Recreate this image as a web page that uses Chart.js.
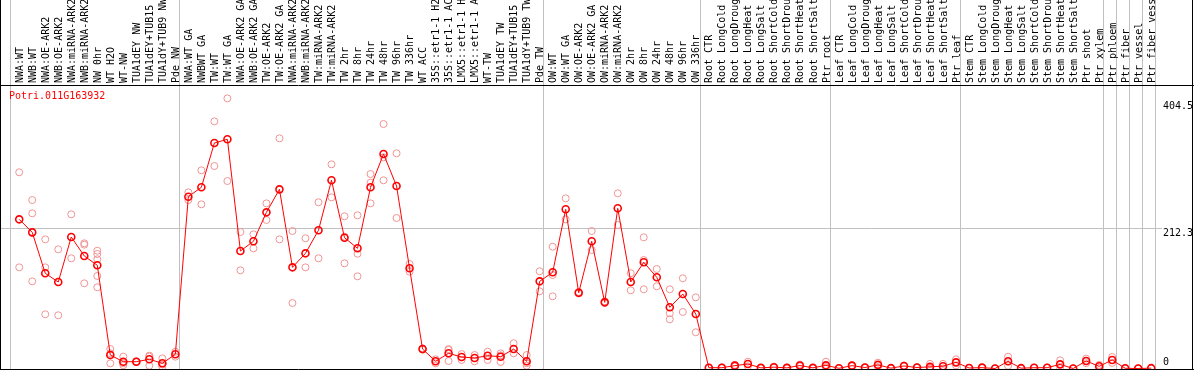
<!DOCTYPE html>
<html lang="en">
<head>
  <meta charset="UTF-8" />
  <title>Potri.011G163932 expression</title>
  <script src="https://cdn.jsdelivr.net/npm/chart.js"></script>
  <style>
    body { margin: 0; background: #fff; }
    #exprChart { display: block; }
  </style>
</head>
<body>
  <canvas id="exprChart" width="1194" height="370"></canvas>

  <script>
    const geneName = "Potri.011G163932";

    // sample groups, left to right
    const groupSizes = [13, 28, 12, 10, 10, 11, 1, 1, 1, 1];

    const sampleLabels = [
      "NWA:WT", "NWB:WT", "NWA:OE-ARK2", "NWB:OE-ARK2", "NWA:miRNA-ARK2", "NWB:miRNA-ARK2",
      "NW 0hr", "WT H2O", "WT-NW", "TUA1dEY NW", "TUA1dEY+TUB15 NW", "TUA1dY+TUB9 NW", "Pde NW",
      "NWA:WT GA", "NWBWT GA", "TW:WT", "TW:WT GA", "NWA:OE-ARK2 GA", "NWB:OE-ARK2 GA",
      "TW:OE-ARK2", "TW:OE-ARK2 GA", "NWA:miRNA-ARK2", "NWB:miRNA-ARK2", "TW:miRNA-ARK2", "TW:miRNA-ARK2",
      "TW 2hr", "TW 8hr", "TW 24hr", "TW 48hr", "TW 96hr", "TW 336hr", "WT ACC",
      "35S::etr1-1 H2O", "35S::etr1-1 ACC", "LMX5::etr1-1 H2O", "LMX5::etr1-1 ACC",
      "WT-TW", "TUA1dEY TW", "TUA1dEY+TUB15 TW", "TUA1dY+TUB9 TW", "Pde TW",
      "OW:WT", "OW:WT GA", "OW:OE-ARK2", "OW:OE-ARK2 GA", "OW:miRNA-ARK2", "OW:miRNA-ARK2",
      "OW 2hr", "OW 8hr", "OW 24hr", "OW 48hr", "OW 96hr", "OW 336hr",
      "Root CTR", "Root LongCold", "Root LongDrought", "Root LongHeat", "Root LongSalt",
      "Root ShortCold", "Root ShortDrought", "Root ShortHeat", "Root ShortSalt", "Ptr root",
      "Leaf CTR", "Leaf LongCold", "Leaf LongDrought", "Leaf LongHeat", "Leaf LongSalt",
      "Leaf ShortCold", "Leaf ShortDrought", "Leaf ShortHeat", "Leaf ShortSalt", "Ptr leaf",
      "Stem CTR", "Stem LongCold", "Stem LongDrought", "Stem LongHeat", "Stem LongSalt",
      "Stem ShortCold", "Stem ShortDrought", "Stem ShortHeat", "Stem ShortSalt", "Ptr shoot", "Ptr xylem",
      "Ptr phloem", "Ptr fiber", "Ptr vessel", "Ptr fiber vessel"
    ];

    const meanValues = [
      225.9, 206.2, 144.2, 131.0, 199.1, 170.4, 156.3, 20.4, 10.3, 10.3, 13.9, 7.9, 21.5,
      260.2, 274.4, 341.5, 347.1, 177.9, 192.6, 236.5, 271.3, 153.2, 174.4, 209.3, 285.0,
      198.1, 182.0, 274.4, 324.8, 276.3, 151.7, 29.5, 10.9, 23.0, 17.4, 15.9, 19.4, 17.9, 29.5, 10.9, 132.0,
      145.7, 241.1, 114.8, 192.6, 100.2, 242.6, 131.0, 160.8, 138.1, 92.7, 112.8, 82.5,
      1.2, 1.2, 4.3, 6.8, 1.0, 2.0, 1.0, 4.5, 1.0, 4.8,
      0.3, 4.3, 1.5, 5.5, 0.5, 3.8, 1.5, 2.5, 3.5, 9.3,
      0.8, 1.3, 0.0, 10.9, 0.5, 1.2, 1.2, 6.3, 0.0, 11.4, 3.3,
      12.9, 0.3, 0.0, 0.5
    ];

    const replicateValues = [
      [297.1, 153.2], [255.1, 235.0, 132.0], [195.6, 153.2, 82.1], [180.5, 80.6], [233.5, 166.9],
      [189.6, 187.5, 129.0], [178.4, 173.4, 165.4, 140.1, 123.0], [29.5, 7.9, 23.0], [18.0, 8.0, 5.0],
      [11.0, 10.0, 10.0], [19.4, 4.2, 18.0], [15.4, 2.7, 6.0], [25.4, 17.9],
      [266.8, 255.1], [300.1, 248.6], [374.3, 306.6], [409.1, 283.9], [206.7, 148.7], [203.2, 182.0],
      [250.1, 224.9], [348.6, 195.6], [208.2, 99.2], [197.2, 153.2], [251.7, 166.9], [309.2, 259.2],
      [230.5, 159.3, 199.6], [232.0, 173.8, 139.6], [294.5, 281.3, 250.1], [370.2, 319.8, 285.0],
      [325.9, 227.9], [158.2, 146.6], [30.5, 28.5], [13.9, 7.9], [29.5, 11.4, 28.0], [21.9, 12.9],
      [20.4, 10.9], [25.4, 12.9], [23.0, 9.9, 20.0], [38.2, 23.0], [20.4, 4.2, 8.0], [147.2, 116.9],
      [184.4, 141.6, 109.3], [257.7, 225.9], [116.0, 113.5], [208.2, 179.4], [101.7, 99.2], [265.3, 217.3],
      [144.2, 118.4], [198.7, 164.3, 119.9], [150.7, 124.5], [119.9, 83.6, 74.5], [136.6, 85.6], [107.8, 54.8],
      [1.5, 0.8], [1.8, 0.6], [5.5, 3.0], [10.3, 3.3], [1.2, 0.8], [2.8, 1.2], [1.4, 0.6], [6.0, 3.0], [1.3, 0.7], [10.3, 2.0, 2.1],
      [0.4, 0.2], [5.0, 3.6], [2.0, 1.0], [8.8, 2.2], [0.7, 0.3], [4.5, 3.1], [2.0, 1.0], [7.0, 0.5, 0.0], [7.0, 0.0], [13.9, 4.7],
      [1.0, 0.6], [1.6, 1.0], [0.0, 0.0], [17.9, 10.9, 4.1], [0.7, 0.3], [1.4, 1.0], [1.4, 1.0], [12.4, 0.3], [0.0, 0.0], [15.0, 11.4, 8.0], [5.5, 1.1],
      [17.4, 12.9, 8.4], [0.4, 0.2], [0.0, 0.0], [0.7, 0.3]
    ];

    const yTickValues = [404.5, 212.3, 0];
    const yGridValues = [212.3];

    const FONT = "10px 'DejaVu Sans Mono', monospace";
    const POINT_POS = 0.67; // points sit a bit right of the column centre
    const GRAY = "#c0c0c0";

    const meanPoints = meanValues.map((v, i) => ({ x: i + POINT_POS, y: v }));
    const repPoints = [];
    replicateValues.forEach((reps, i) => {
      reps.forEach(v => repPoints.push({ x: i + POINT_POS, y: v }));
    });

    function groupBoundaries() {
      const out = [0];
      let acc = 0;
      groupSizes.forEach(n => { acc += n; out.push(acc); });
      return out;
    }

    function vline(ctx, x, y0, y1, color) {
      ctx.strokeStyle = color;
      ctx.lineWidth = 1;
      ctx.beginPath();
      ctx.moveTo(Math.round(x) + 0.5, y0);
      ctx.lineTo(Math.round(x) + 0.5, y1);
      ctx.stroke();
    }

    function hline(ctx, y, x0, x1, color) {
      ctx.strokeStyle = color;
      ctx.lineWidth = 1;
      ctx.beginPath();
      ctx.moveTo(x0, Math.round(y) + 0.5);
      ctx.lineTo(x1, Math.round(y) + 0.5);
      ctx.stroke();
    }

    const efpDecor = {
      id: "efpDecor",
      beforeDatasetsDraw(chart) {
        const ctx = chart.ctx;
        const xs = chart.scales.x, ys = chart.scales.y;
        const H = chart.height;
        ctx.save();
        yGridValues.forEach(v => hline(ctx, ys.getPixelForValue(v) - 0.5, 1, 1162, GRAY));
        groupBoundaries().forEach(b => vline(ctx, xs.getPixelForValue(b) - 0.5, 0, H - 1, GRAY));
        ctx.restore();
      },
      afterDatasetsDraw(chart) {
        const ctx = chart.ctx;
        const xs = chart.scales.x, ys = chart.scales.y;
        const W = chart.width, H = chart.height;
        const top = chart.chartArea.top;
        ctx.save();

        // frame
        vline(ctx, 0, 0, H, "#000");
        vline(ctx, W - 2, 0, H, "#000");
        hline(ctx, top - 1, 0, W, "#000");
        hline(ctx, H - 1, 0, W, "#000");

        // vertical sample labels in the header
        ctx.fillStyle = "#000";
        ctx.font = FONT;
        sampleLabels.forEach((lab, i) => {
          ctx.save();
          ctx.translate(xs.getPixelForValue(i + POINT_POS) + 1, top - 3);
          ctx.rotate(-Math.PI / 2);
          ctx.textAlign = "left";
          ctx.textBaseline = "middle";
          ctx.fillText(lab, 0, 0);
          ctx.restore();
        });

        // gene name
        ctx.fillStyle = "#ff0000";
        ctx.textAlign = "left";
        ctx.textBaseline = "top";
        ctx.fillText(geneName, 9, top + 5);

        // value labels on the right
        ctx.fillStyle = "#000";
        yTickValues.forEach(v => {
          const y = ys.getPixelForValue(v);
          if (v === 0) {
            ctx.textBaseline = "bottom";
            ctx.fillText(String(v), 1163, y - 1);
          } else {
            ctx.textBaseline = "top";
            ctx.fillText(String(v), 1163, y);
          }
        });
        ctx.restore();
      }
    };

    const ctx = document.getElementById("exprChart").getContext("2d");
    window.myChart = new Chart(ctx, {
      type: "line",
      data: {
        datasets: [
          {
            label: "mean",
            data: meanPoints,
            borderColor: "#ff0000",
            borderWidth: 1,
            pointStyle: "circle",
            pointRadius: 3.5,
            pointBorderWidth: 1.6,
            pointBorderColor: "#ff0000",
            pointBackgroundColor: "rgba(0,0,0,0)",
            tension: 0,
            clip: 6
          },
          {
            label: "replicates",
            data: repPoints,
            showLine: false,
            pointStyle: "circle",
            pointRadius: 3.5,
            pointBorderWidth: 1,
            pointBorderColor: "#f09494",
            pointBackgroundColor: "rgba(0,0,0,0)",
            clip: 6
          }
        ]
      },
      options: {
        responsive: false,
        animation: false,
        devicePixelRatio: 1,
        layout: { autoPadding: false, padding: { left: 10.5, right: 38.5, top: 86, bottom: 1.5 } },
        scales: {
          x: { type: "linear", min: 0, max: sampleLabels.length, display: false },
          y: { min: 0, max: 427.8, display: false }
        },
        plugins: {
          legend: { display: false },
          tooltip: { enabled: false }
        }
      },
      plugins: [efpDecor]
    });
  </script>
</body>
</html>
